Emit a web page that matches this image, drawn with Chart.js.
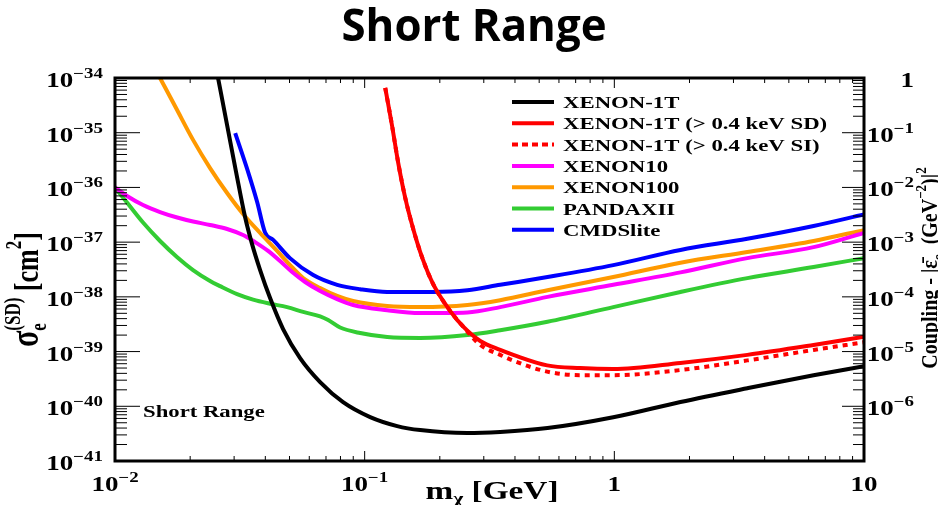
<!DOCTYPE html>
<html>
<head>
<meta charset="utf-8">
<script src="https://cdn.jsdelivr.net/npm/chart.js@4.4.1/dist/chart.umd.min.js"></script>
<style>
  html, body { margin: 0; padding: 0; background: #fff; }
  #c { display: block; }
</style>
</head>
<body>
<canvas id="c" width="938" height="505"></canvas>
<script>
"use strict"
// limits, m in GeV, sigma in cm^2

// XENON-1T
var mX1T = [0.02587, 0.02812, 0.03055, 0.03319, 0.0354, 0.03813, 0.0418, 0.04713, 0.05513, 0.06631, 0.08195, 0.1052, 0.135, 0.1669, 0.2575, 0.349, 0.54, 0.99, 1.84, 3.41, 6.28, 10];
var sX1T = [1.0e-34, 1.38e-35, 1.91e-36, 2.88e-37, 9.2e-38, 3.09e-38, 9.5e-39, 2.58e-39, 7.6e-40, 2.77e-40, 1.19e-40, 6.35e-41, 4.35e-41, 3.67e-41, 3.24e-41, 3.4e-41, 4.0e-41, 6.3e-41, 1.2e-40, 2.14e-40, 3.7e-40, 5.4e-40];
// XENON-1T (> 0.4 keV SD)
var mSD = [0.1209, 0.1289, 0.1362, 0.1453, 0.1564, 0.17, 0.1881, 0.2202, 0.2482, 0.2904, 0.349, 0.394, 0.538, 0.73, 0.99, 1.84, 3.41, 6.28, 10];
var sSD = [6.6e-35, 1.3e-35, 2.85e-36, 6.5e-37, 1.76e-37, 5.2e-38, 1.71e-38, 5.5e-39, 2.85e-39, 1.56e-39, 1.07e-39, 8.7e-40, 5.6e-40, 5.0e-40, 4.8e-40, 6.2e-40, 8.7e-40, 1.32e-39, 1.86e-39];
// XENON-1T (> 0.4 keV SI)
var mSI = [0.1209, 0.1289, 0.1362, 0.1453, 0.1564, 0.17, 0.1881, 0.2202, 0.2482, 0.2904, 0.349, 0.394, 0.538, 0.73, 0.99, 1.84, 3.41, 6.28, 10];
var sSI = [6.6e-35, 1.3e-35, 2.85e-36, 6.5e-37, 1.76e-37, 5.2e-38, 1.71e-38, 5.5e-39, 2.85e-39, 1.32e-39, 8.7e-40, 6.8e-40, 4.3e-40, 3.7e-40, 3.7e-40, 4.6e-40, 6.9e-40, 1.07e-39, 1.48e-39];
// XENON10
var mX10 = [0.01, 0.01117, 0.01295, 0.01515, 0.01775, 0.02054, 0.02403, 0.02812, 0.03258, 0.0364, 0.04103, 0.04584, 0.05122, 0.05775, 0.06631, 0.07757, 0.08992, 0.1231, 0.1669, 0.258, 0.349, 0.54, 0.99, 1.84, 3.41, 6.28, 10];
var sX10 = [1.0e-36, 6.97e-37, 4.77e-37, 3.55e-37, 2.82e-37, 2.38e-37, 2.06e-37, 1.74e-37, 1.35e-37, 1.0e-37, 6.9e-38, 4.5e-38, 2.84e-38, 1.87e-38, 1.28e-38, 9.1e-39, 7.1e-39, 5.7e-39, 5.06e-39, 5.2e-39, 6.5e-39, 1.0e-38, 1.66e-38, 2.8e-38, 5.1e-38, 8.1e-38, 1.48e-37];
// XENON100
var mX100 = [0.01515, 0.01756, 0.02054, 0.02403, 0.02812, 0.03258, 0.03813, 0.04459, 0.05028, 0.05669, 0.06631, 0.07757, 0.08992, 0.1231, 0.1669, 0.258, 0.349, 0.54, 0.99, 1.84, 3.41, 6.28, 10];
var sX100 = [1.0e-34, 2.83e-35, 7.4e-36, 2.26e-36, 7.9e-37, 3.27e-37, 1.47e-37, 6.9e-38, 3.8e-38, 2.21e-38, 1.45e-38, 1.04e-38, 8.4e-39, 6.8e-39, 6.5e-39, 7.1e-39, 8.7e-39, 1.32e-38, 2.3e-38, 4.2e-38, 6.6e-38, 1.05e-37, 1.66e-37];
// PANDAXII
var mPX = [0.01, 0.01117, 0.01295, 0.01515, 0.01775, 0.02054, 0.02403, 0.02635, 0.03083, 0.03573, 0.0418, 0.04891, 0.05669, 0.06631, 0.07142, 0.07975, 0.09594, 0.1231, 0.1669, 0.258, 0.349, 0.54, 0.99, 1.84, 3.41, 6.28, 10];
var sPX = [1.0e-36, 5.3e-37, 2.28e-37, 1.05e-37, 5.3e-38, 3.09e-38, 1.95e-38, 1.57e-38, 1.12e-38, 8.9e-39, 7.5e-39, 6.5e-39, 5.3e-39, 4.4e-39, 3.77e-39, 2.75e-39, 2.18e-39, 1.84e-39, 1.77e-39, 2.0e-39, 2.45e-39, 3.5e-39, 6.5e-39, 1.23e-38, 2.2e-38, 3.5e-38, 5.1e-38];
// CMDSlite
var mCM = [0.0303, 0.0338, 0.0371, 0.0399, 0.043, 0.0502, 0.0622, 0.0776, 0.096, 0.123, 0.188, 0.258, 0.349, 0.54, 0.99, 1.84, 3.41, 6.28, 10];
var sCM = [9.8e-36, 2.2e-36, 5.4e-37, 1.5e-37, 1.1e-37, 5.1e-38, 2.5e-38, 1.66e-38, 1.38e-38, 1.23e-38, 1.23e-38, 1.32e-38, 1.66e-38, 2.3e-38, 3.8e-38, 7.2e-38, 1.15e-37, 1.97e-37, 3.2e-37];

// tick labels, [base, exponent]
var xTickVals = [0.01, 0.1, 1, 10];
var xTickText = [["10", "\u22122"], ["10", "\u22121"], ["1", ""], ["10", ""]];
var yTickVals = [1e-34, 1e-35, 1e-36, 1e-37, 1e-38, 1e-39, 1e-40, 1e-41];
var yTickText = [["10", "\u221234"], ["10", "\u221235"], ["10", "\u221236"], ["10", "\u221237"], ["10", "\u221238"], ["10", "\u221239"], ["10", "\u221240"], ["10", "\u221241"]];
var rTickVals = [1, 1e-1, 1e-2, 1e-3, 1e-4, 1e-5, 1e-6];
var rTickText = [["1", ""], ["10", "\u22121"], ["10", "\u22122"], ["10", "\u22123"], ["10", "\u22124"], ["10", "\u22125"], ["10", "\u22126"]];

function pts(m, s) {//pair the arrays up for chart.js
  return m.map(function(v, i) { return {x: v, y: s[i]}; });
}

var SERIF = '"Liberation Serif", "DejaVu Serif", serif';

// draw a run of text pieces: [text, size, dy], stretched by sx/sy
function runs(ctx, parts, x, y, align, sx, sy) {
  var w = 0;
  parts.forEach(function(p) { ctx.font = "bold " + p[1] + "px " + SERIF; p.w = ctx.measureText(p[0]).width * sx; w += p.w; });
  var x0 = align === "right" ? x - w : align === "center" ? x - w / 2 : x;
  parts.forEach(function(p) {
    ctx.save();
    ctx.font = "bold " + p[1] + "px " + SERIF;
    ctx.textAlign = "left";
    ctx.textBaseline = "alphabetic";
    ctx.translate(x0, y + (p[2] || 0) * sy);
    ctx.scale(sx, sy);
    ctx.fillText(p[0], 0, 0);
    ctx.restore();
    x0 += p.w;
  });
  return w;
}

function powParts(t) {
  var parts = [[t[0], 20, 0]];
  if (t[1]) parts.push([t[1], 14, -9]);
  return parts;
}

var rootFrame = {
  id: "rootFrame",
  afterDatasetsDraw: function(chart) {
    var ctx = chart.ctx, a = chart.chartArea;
    var xs = chart.scales.x, ys = chart.scales.y, y2 = chart.scales.y2;
    ctx.save();
    ctx.fillStyle = "#000";
    ctx.strokeStyle = "#000";
    ctx.lineWidth = 1;
    function seg(x1, y1, x2, y2_) { ctx.beginPath(); ctx.moveTo(x1, y1); ctx.lineTo(x2, y2_); ctx.stroke(); }

    // log ticks, pointing inwards like ROOT
    var e, k, p;
    for (e = -2; e < 1; e++) for (k = 1; k < 10; k++) {
      p = xs.getPixelForValue(k * Math.pow(10, e));
      seg(p, a.bottom, p, a.bottom - (k === 1 ? 10 : 5));
      seg(p, a.top, p, a.top + (k === 1 ? 10 : 5));
    }
    for (e = -41; e < -34; e++) for (k = 1; k < 10; k++) {
      p = ys.getPixelForValue(k * Math.pow(10, e));
      seg(a.left, p, a.left + (k === 1 ? 25 : 12), p);
    }
    for (e = -7; e < 0; e++) for (k = 1; k < 10; k++) {
      p = y2.getPixelForValue(k * Math.pow(10, e));
      seg(a.right, p, a.right - (k === 1 ? 22 : 11), p);
    }
    ctx.lineWidth = 3;
    ctx.strokeRect(a.left, a.top, a.right - a.left, a.bottom - a.top);

    // tick labels
    yTickVals.forEach(function(v, i) {
      runs(ctx, powParts(yTickText[i]), 103, ys.getPixelForValue(v) + 9, "right", 1.35, 1);
    });
    rTickVals.forEach(function(v, i) {
      runs(ctx, powParts(rTickText[i]), 914, y2.getPixelForValue(v) + 9, "right", 1.35, 1);
    });
    xTickVals.forEach(function(v, i) {
      runs(ctx, powParts(xTickText[i]), xs.getPixelForValue(v), 491, "center", 1.35, 1);
    });

    // axis titles
    runs(ctx, [["m", 26, 0], ["\u03c7", 17, 5], [" [GeV]", 26, 0]], 492, 499, "center", 1.28, 1);

    ctx.save();
    ctx.translate(38, 272);
    ctx.rotate(-Math.PI / 2);
    var lw = runs(ctx, [["\u03c3", 30, 0]], -75, 0, "left", 1, 1.3);
    runs(ctx, [["e", 17, 6]], -75 + lw, 0, "left", 1, 1.3);
    runs(ctx, [["(SD)", 17, -14]], -75 + lw, 0, "left", 1, 1.3);
    ctx.font = "bold 17px " + SERIF;
    var w2 = ctx.measureText("(SD)").width;
    runs(ctx, [[" [cm", 26, 0], ["2", 17, -13], ["]", 26, 0]], -75 + lw + w2, 0, "left", 1, 1.3);
    ctx.restore();

    ctx.save();
    ctx.translate(937, 268);
    ctx.rotate(-Math.PI / 2);
    runs(ctx, [["Coupling - |\u03b5\u0304", 20, 0], ["e", 13, 5], ["  (GeV", 20, 0], ["\u22122", 13, -9], [")|", 20, 0], ["2", 13, -9]], 0, 0, "center", 1, 1.2);
    ctx.restore();

    // label in the plot
    runs(ctx, [["Short Range", 16, 0]], 143, 417, "left", 1.42, 1);

    // legend
    chart.data.datasets.forEach(function(ds, i) {
      var ly = 102 + i * 21.3;
      ctx.save();
      ctx.strokeStyle = ds.borderColor;
      ctx.lineWidth = 4;
      ctx.setLineDash(ds.borderDash ? [6, 4] : []);
      seg(512, ly, 554, ly);
      ctx.restore();
      runs(ctx, [[ds.label, 17, 0]], 563, ly + 6, "left", 1.34, 1);
    });

    // page heading
    ctx.font = 'bold 44px "Open Sans", sans-serif';
    var tw = ctx.measureText("Short Range").width;
    ctx.save();
    ctx.translate(474, 41);
    ctx.scale(265 / tw, 1);
    ctx.textAlign = "center";
    ctx.textBaseline = "alphabetic";
    ctx.fillText("Short Range", 0, 0);
    ctx.restore();

    ctx.restore();
  }
};

function line(label, m, s, color, dash) {
  return {
    label: label,
    data: pts(m, s),
    borderColor: color,
    backgroundColor: color,
    borderWidth: 4,
    borderDash: dash,
    pointRadius: 0,
    fill: false,
    cubicInterpolationMode: "monotone"
  };
}

var chart = new Chart(document.getElementById("c"), {
  type: "line",
  data: {
    datasets: [
      line("XENON-1T", mX1T, sX1T, "#000000"),
      line("XENON-1T (> 0.4 keV SD)", mSD, sSD, "#ff0000"),
      line("XENON-1T (> 0.4 keV SI)", mSI, sSI, "#ff0000", [5, 5]),
      line("XENON10", mX10, sX10, "#ff00ff"),
      line("XENON100", mX100, sX100, "#ff9900"),
      line("PANDAXII", mPX, sPX, "#33cc33"),
      line("CMDSlite", mCM, sCM, "#0000ff")
    ]
  },
  options: {
    responsive: false,
    animation: false,
    devicePixelRatio: 1,
    layout: { padding: { left: 115, right: 74, top: 78, bottom: 44 } },
    plugins: { legend: { display: false }, tooltip: { enabled: false }, title: { display: false } },
    scales: {
      x: { type: "logarithmic", min: 0.01, max: 10, display: false },
      y: { type: "logarithmic", min: 1e-41, max: 1e-34, display: false },
      y2: { type: "logarithmic", position: "right", min: 1e-7, max: 1, display: false }
    }
  },
  plugins: [rootFrame]
});
</script>
</body>
</html>
